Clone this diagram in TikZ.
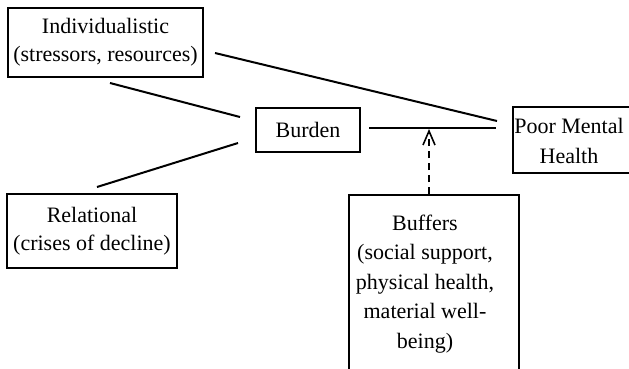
\documentclass[tikz,border=0pt]{standalone}
\usepackage{fontspec}
\setmainfont{Liberation Serif}
\usetikzlibrary{arrows.meta}
\begin{document}
\begin{tikzpicture}[x=1pt,y=-1pt,
  box/.style={draw, line width=1.6pt, inner sep=0pt, align=center, font=\fontsize{22}{28}\selectfont},
  txt/.style={inner sep=0pt, align=center, font=\fontsize{22}{29.5}\selectfont},
  link/.style={line width=2pt},
  dashlink/.style={line width=2pt, dash pattern=on 7pt off 5pt, -{Straight Barb[length=14pt,width=12pt,line width=1.6pt]}}
  ]
\useasboundingbox (0,0) rectangle (629,368);
\clip (0,0) rectangle (629,368);
\fill[white] (0,0) rectangle (629,368);
% boxes
\node[box, minimum width=195pt, minimum height=69pt] (ind) at (105.5,42.5) {Individualistic\\(stressors, resources)};
\node[box, minimum width=104pt, minimum height=44pt] (burden) at (308,130) {Burden};
\node[box, minimum width=170pt, minimum height=74pt] (rel) at (92,231) {Relational\\(crises of decline)};
\node[box, minimum width=160pt, minimum height=66pt, anchor=west] (pmh) at (512,140) {};
\node[txt] (pmhtext) at (569,141) {Poor Mental\\Health};
\node[box, minimum width=170pt, minimum height=220pt, anchor=north west] (buf) at (348,194) {};
\node[txt] (buftext) at (425,284) {Buffers\\(social support,\\physical health,\\material well-\\being)};
% connector ends
\coordinate (a1) at (110,83);  \coordinate (a2) at (240,117);
\coordinate (b1) at (215,53);  \coordinate (b2) at (497,121);
\coordinate (c1) at (238,143); \coordinate (c2) at (97,187);
\coordinate (d1) at (369,128); \coordinate (d2) at (496,128);
\coordinate (e1) at (429,194); \coordinate (e2) at (429,129);
\draw[link] (a1) -- (a2);
\draw[link] (b1) -- (b2);
\draw[link] (c1) -- (c2);
\draw[link] (d1) -- (d2);
\draw[dashlink] (e1) -- (e2);
\end{tikzpicture}
\end{document}
